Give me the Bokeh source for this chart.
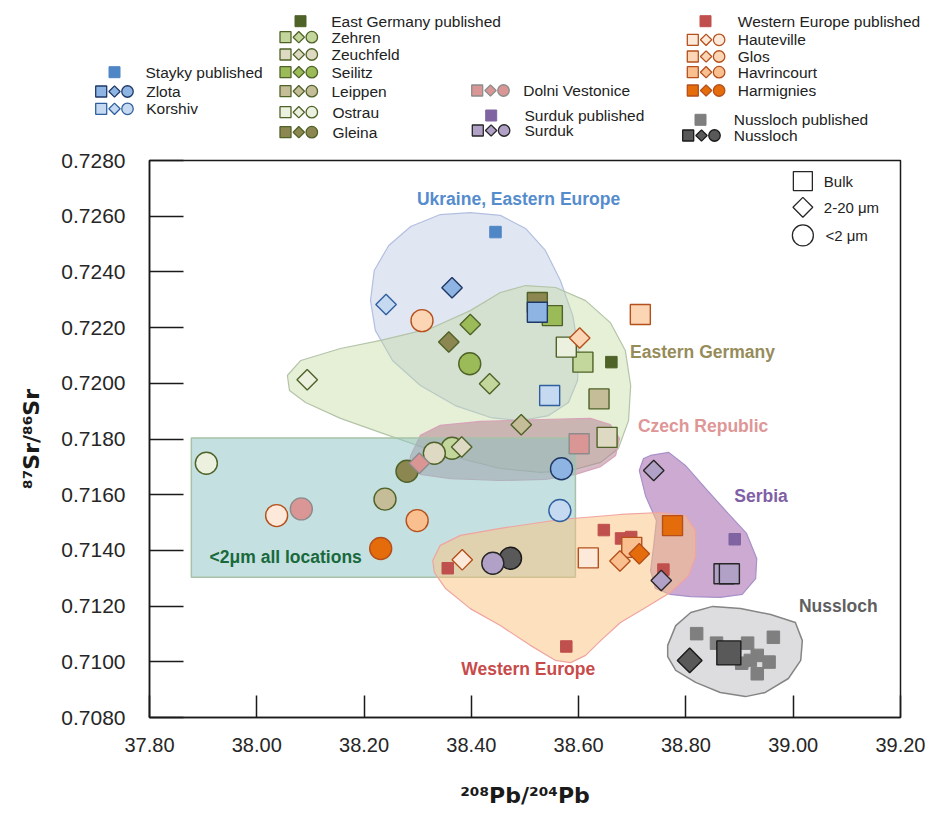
import numpy as np
from bokeh.plotting import figure
from bokeh.models import ColumnDataSource, Label, Range1d, FixedTicker, NumeralTickFormatter
from bokeh.embed import file_html
from bokeh.resources import INLINE
from bokeh.core.properties import value

# ---------------- data ----------------
x_ticks = [37.80, 38.00, 38.20, 38.40, 38.60, 38.80, 39.00, 39.20]
y_ticks = [0.7080, 0.7100, 0.7120, 0.7140, 0.7160, 0.7180, 0.7200, 0.7220, 0.7240, 0.7260, 0.7280]

# Bulk samples (squares)
bulk_site = ["Gleina", "Seilitz", "Zlota", "Korshiv", "Zehren", "Ostrau", "Leippen", "Zeuchfeld",
             "Dolni Vestonice", "Glos", "Hauteville", "Havrincourt", "Harmignies", "Surduk", "Surduk", "Nussloch"]
bulk_pb = [38.523, 38.551, 38.523, 38.546, 38.608, 38.577, 38.638, 38.653,
           38.601, 38.715, 38.618, 38.699, 38.775, 38.871, 38.881, 38.880]
bulk_sr = [0.72290, 0.72243, 0.72255, 0.71956, 0.72076, 0.72130, 0.71944, 0.71806,
           0.71783, 0.72247, 0.71373, 0.71411, 0.71489, 0.71316, 0.71316, 0.71032]

# <2 um fraction (circles)
fine_site = ["Ostrau", "Dolni Vestonice", "Hauteville", "Leippen", "Havrincourt", "Harmignies", "Gleina",
             "Zehren", "Zeuchfeld", "Seilitz", "Glos", "Zlota", "Korshiv", "Nussloch", "Surduk"]
fine_pb = [37.906, 38.083, 38.037, 38.239, 38.299, 38.231, 38.280,
           38.364, 38.331, 38.397, 38.308, 38.568, 38.565, 38.473, 38.440]
fine_sr = [0.71713, 0.71549, 0.71525, 0.71584, 0.71507, 0.71407, 0.71684,
           0.71767, 0.71749, 0.72070, 0.72225, 0.71693, 0.71543, 0.71372, 0.71354]

# 2-20 um fraction (diamonds)
mid_site = ["Ostrau", "Korshiv", "Zlota", "Seilitz", "Gleina", "Zehren", "Leippen", "Glos", "Dolni Vestonice",
            "Zeuchfeld", "Hauteville", "Havrincourt", "Harmignies", "Surduk", "Surduk", "Nussloch"]
mid_pb = [38.094, 38.241, 38.364, 38.398, 38.358, 38.434, 38.493, 38.602, 38.303,
          38.382, 38.383, 38.677, 38.713, 38.740, 38.754, 38.807]
mid_sr = [0.72013, 0.72283, 0.72343, 0.72211, 0.72148, 0.71998, 0.71851, 0.72163, 0.71713,
          0.71771, 0.71366, 0.71362, 0.71388, 0.71687, 0.71292, 0.71005]

# Published data (small squares)
pub_group = (["Stayky", "East Germany", "Surduk"] + ["Western Europe"] * 6 + ["Nussloch"] * 9)
pub_pb = [38.445, 38.661, 38.891,
          38.356, 38.647, 38.679, 38.698, 38.577, 38.758,
          38.820, 38.857, 38.915, 38.963, 38.933, 38.920, 38.904, 38.955, 38.933]
pub_sr = [0.72543, 0.72076, 0.71440,
          0.71336, 0.71473, 0.71443, 0.71448, 0.71055, 0.71331,
          0.71101, 0.71067, 0.71067, 0.71088, 0.71023, 0.71005, 0.70995, 0.70999, 0.70957]

# Region outlines
ukraine_pb = [38.398, 38.454, 38.501, 38.538, 38.566, 38.589, 38.600, 38.598, 38.581, 38.544, 38.492,
              38.436, 38.370, 38.305, 38.253, 38.221, 38.212, 38.219, 38.246, 38.287, 38.342]
ukraine_sr = [0.72613, 0.72603, 0.72556, 0.72477, 0.72369, 0.72243, 0.72118, 0.72010, 0.71931, 0.71884, 0.71866,
              0.71877, 0.71920, 0.71992, 0.72082, 0.72190, 0.72297, 0.72405, 0.72495, 0.72563, 0.72606]

germany_pb = [38.057, 38.082, 38.156, 38.231, 38.324, 38.398, 38.454, 38.501, 38.557, 38.613, 38.659, 38.687,
              38.697, 38.693, 38.674, 38.641, 38.585, 38.529, 38.454, 38.380, 38.305, 38.231, 38.156, 38.091, 38.061]
germany_sr = [0.72028, 0.72082, 0.72125, 0.72154, 0.72197, 0.72261, 0.72326, 0.72351, 0.72344, 0.72297, 0.72218, 0.72118,
              0.71992, 0.71866, 0.71766, 0.71716, 0.71687, 0.71680, 0.71694, 0.71730, 0.71773, 0.71823, 0.71874, 0.71931, 0.71974]

czech_pb = [38.287, 38.305, 38.342, 38.417, 38.529, 38.622, 38.659, 38.676, 38.669, 38.641, 38.594, 38.538,
            38.454, 38.361, 38.305, 38.283]
czech_sr = [0.71741, 0.71813, 0.71849, 0.71863, 0.71870, 0.71874, 0.71852, 0.71802, 0.71741, 0.71701, 0.71673, 0.71655,
            0.71651, 0.71658, 0.71673, 0.71701]

western_pb = [38.328, 38.342, 38.380, 38.454, 38.566, 38.678, 38.753, 38.799, 38.818, 38.818, 38.805, 38.771,
              38.725, 38.678, 38.641, 38.613, 38.585, 38.557, 38.510, 38.454, 38.398, 38.352, 38.331]
western_sr = [0.71364, 0.71418, 0.71454, 0.71479, 0.71511, 0.71529, 0.71536, 0.71525, 0.71471, 0.71378, 0.71310, 0.71249,
              0.71195, 0.71141, 0.71076, 0.71023, 0.70997, 0.71005, 0.71059, 0.71130, 0.71191, 0.71263, 0.71321]

serbia_pb = [38.734, 38.768, 38.799, 38.837, 38.879, 38.913, 38.932, 38.930, 38.905, 38.864, 38.809, 38.771,
             38.743, 38.734, 38.740, 38.745, 38.725, 38.713, 38.721]
serbia_sr = [0.71741, 0.71752, 0.71705, 0.71622, 0.71532, 0.71461, 0.71371, 0.71299, 0.71242, 0.71231, 0.71234, 0.71242,
             0.71263, 0.71328, 0.71418, 0.71507, 0.71594, 0.71687, 0.71730]

nussloch_pb = [38.766, 38.781, 38.809, 38.850, 38.902, 38.958, 39.004, 39.017, 39.014, 38.991, 38.948, 38.911,
               38.864, 38.818, 38.781, 38.766]
nussloch_sr = [0.71059, 0.71130, 0.71177, 0.71199, 0.71191, 0.71170, 0.71141, 0.71076, 0.71005, 0.70940, 0.70890, 0.70875,
               0.70890, 0.70926, 0.70969, 0.71019]

# "<2um all locations" box: left, right, bottom, top
fine_box = [37.878, 38.594, 0.71304, 0.71804]

# ---------------- styles ----------------
site_style = {
    "Zlota": ("#8db4e2", "#1f3864"),
    "Korshiv": ("#c5d9f1", "#2f5f9f"),
    "Zehren": ("#c3d69b", "#4f6228"),
    "Zeuchfeld": ("#ddd9c3", "#4f6228"),
    "Seilitz": ("#9bbb59", "#4f6228"),
    "Leippen": ("#c4bd97", "#4f6228"),
    "Ostrau": ("#ebf1de", "#4f6228"),
    "Gleina": ("#8c8650", "#4f6228"),
    "Dolni Vestonice": ("#da9694", "#8c8c8c"),
    "Surduk": ("#b2a1c7", "#262626"),
    "Hauteville": ("#fde9d9", "#b5501c"),
    "Glos": ("#fcd5b4", "#b5501c"),
    "Havrincourt": ("#fabf8f", "#b5501c"),
    "Harmignies": ("#e46c0a", "#b5501c"),
    "Nussloch": ("#595959", "#1a1a1a"),
}
pub_color = {"Stayky": "#4f86c6", "East Germany": "#4f6228", "Surduk": "#8064a2",
             "Western Europe": "#c0504d", "Nussloch": "#7f7f7f"}

SANS = "Liberation Sans"
TXT = "#222222"

# ---------------- main plot ----------------
p = figure(width=925, height=666, x_range=Range1d(37.80, 39.20), y_range=Range1d(0.7080, 0.7280),
           toolbar_location=None, output_backend="svg",
           min_border_left=149, min_border_right=25, min_border_top=12, min_border_bottom=97)
p.grid.visible = False
p.outline_line_color = "#1a1a1a"
p.outline_line_width = 1.5
p.background_fill_color = "white"
p.border_fill_color = "white"

p.xaxis.ticker = FixedTicker(ticks=x_ticks)
p.yaxis.ticker = FixedTicker(ticks=y_ticks)
p.xaxis.formatter = NumeralTickFormatter(format="0.00")
p.yaxis.formatter = NumeralTickFormatter(format="0.0000")
for ax in (p.xaxis, p.yaxis):
    ax.major_tick_out = 0
    ax.minor_tick_line_color = None
    ax.major_tick_line_color = "#1a1a1a"
    ax.major_tick_line_width = 1.5
    ax.axis_line_color = "#1a1a1a"
    ax.axis_line_width = 1.5
    ax.major_label_text_color = "#262626"
    ax.axis_label_text_font = "DejaVu Sans"
    ax.axis_label_text_font_style = "bold"
    ax.axis_label_text_font_size = "22px"
    ax.axis_label_text_color = "#1a1a1a"
p.yaxis.major_tick_in = 34
p.xaxis.major_tick_in = 22
p.yaxis.major_label_text_font = SANS
p.yaxis.major_label_text_font_size = "21px"
p.yaxis.major_label_standoff = 24
p.xaxis.major_label_text_font = SANS
p.xaxis.major_label_text_font_size = "20px"
p.xaxis.major_label_standoff = 20
p.xaxis.axis_label = "\u00b2\u2070\u2078Pb/\u00b2\u2070\u2074Pb"
p.xaxis.axis_label_standoff = 28
p.yaxis.axis_label = "\u2078\u2077Sr/\u2078\u2076Sr"
p.yaxis.axis_label_standoff = 14

# region shapes
p.patch(ukraine_pb, ukraine_sr, fill_color="#a9b8dd", fill_alpha=0.35, line_color="#b3bfe0", line_width=1.2)
p.patch(germany_pb, germany_sr, fill_color="#c1da9b", fill_alpha=0.4, line_color="#b3c4a8", line_width=1.2)
p.patch(czech_pb, czech_sr, fill_color="#b07a90", fill_alpha=0.5, line_color="#d7a3b8", line_width=1.2)
p.quad(left=fine_box[0], right=fine_box[1], bottom=fine_box[2], top=fine_box[3],
       fill_color="#89c1c1", fill_alpha=0.5, line_color="#a7c2a7", line_width=1.5)
p.patch(serbia_pb, serbia_sr, fill_color="#a464ad", fill_alpha=0.55, line_color="#a890c8", line_width=1.2)
p.patch(western_pb, western_sr, fill_color="#fbc17d", fill_alpha=0.5, line_color="#f0a4a0", line_width=1.2)
p.patch(nussloch_pb, nussloch_sr, fill_color="#d9d9db", fill_alpha=0.9, line_color="#858585", line_width=1.5)

# published data
pub_src = ColumnDataSource(dict(x=pub_pb, y=pub_sr, c=[pub_color[g] for g in pub_group],
                                s=[12.5 if g == "Nussloch" else 11.5 for g in pub_group]))
p.scatter("x", "y", source=pub_src, marker="square", size="s", fill_color="c", line_color="c")


def site_source(sites, xs, ys, normal, big):
    return ColumnDataSource(dict(
        x=xs, y=ys,
        fill=[site_style[s][0] for s in sites],
        line=[site_style[s][1] for s in sites],
        size=[big if s == "Nussloch" else normal for s in sites]))


p.scatter("x", "y", source=site_source(bulk_site, bulk_pb, bulk_sr, 20, 24), marker="square",
          size="size", fill_color="fill", line_color="line", line_width=1.4)
p.scatter("x", "y", source=site_source(fine_site, fine_pb, fine_sr, 22, 22), marker="circle",
          size="size", fill_color="fill", line_color="line", line_width=1.4)
p.scatter("x", "y", source=site_source(mid_site, mid_pb, mid_sr, 14.5, 17.5), marker="square",
          angle=np.pi / 4, size="size", fill_color="fill", line_color="line", line_width=1.4)

# region labels
region_labels = [
    ("Ukraine, Eastern Europe", 38.488, 0.72662, "#558ccd", "center"),
    ("Eastern Germany", 38.831, 0.72112, "#968c5a", "center"),
    ("Czech Republic", 38.832, 0.71845, "#de9696", "center"),
    ("Serbia", 38.940, 0.71595, "#8060a5", "center"),
    ("Nussloch", 39.084, 0.71200, "#5f5f5f", "center"),
    ("Western Europe", 38.506, 0.70973, "#c84b4b", "center"),
    ("<2\u03bcm all locations", 37.912, 0.71378, "#19693c", "left"),
]
for txt, lx, ly, col, al in region_labels:
    p.add_layout(Label(x=lx, y=ly, text=txt, text_font=SANS, text_font_style="bold",
                       text_font_size="17.5px", text_color=col, text_align=al, text_baseline="middle"))

# size-fraction key (inside plot, top right)
key_x = [39.018, 39.018, 39.018]
key_y = [0.72726, 0.72632, 0.72531]
p.scatter([key_x[0]], [key_y[0]], marker="square", size=19, fill_color="white", line_color="#262626", line_width=1.3)
p.scatter([key_x[1]], [key_y[1]], marker="square", angle=np.pi / 4, size=14, fill_color="white",
          line_color="#262626", line_width=1.3)
p.scatter([key_x[2]], [key_y[2]], marker="circle", size=21, fill_color="white", line_color="#262626", line_width=1.3)
for txt, ky, kx in [("Bulk", key_y[0], 39.057), ("2-20 \u03bcm", key_y[1], 39.057), ("<2 \u03bcm", key_y[2], 39.060)]:
    p.add_layout(Label(x=kx, y=ky, text=txt, text_font=SANS, text_font_size="15px",
                       text_color=TXT, text_align="left", text_baseline="middle"))

# ---------------- legend panel (above the plot, separate root) ----------------
leg = figure(width=925, height=148, x_range=Range1d(0, 925), y_range=Range1d(148, 0),
             toolbar_location=None, output_backend="svg", min_border=0,
             x_axis_location=None, y_axis_location=None)
leg.grid.visible = False
leg.outline_line_color = None

legend_rows = [
    ("pub", "Stayky", 114, 71.7, 145, "Stayky published"),
    ("site", "Zlota", 100.7, 91, 145.7, "Zlota"),
    ("site", "Korshiv", 100.7, 108.3, 145.7, "Korshiv"),
    ("pub", "East Germany", 300, 20.7, 330.7, "East Germany published"),
    ("site", "Zehren", 285, 36.7, 331, "Zehren"),
    ("site", "Zeuchfeld", 285, 54, 331, "Zeuchfeld"),
    ("site", "Seilitz", 285, 71.7, 331, "Seilitz"),
    ("site", "Leippen", 285, 90.7, 331, "Leippen"),
    ("site", "Ostrau", 285, 111.7, 332, "Ostrau"),
    ("site", "Gleina", 285, 131.7, 332, "Gleina"),
    ("site", "Dolni Vestonice", 476.7, 90, 522.7, "Dolni Vestonice"),
    ("pub", "Surduk", 490.7, 115, 524, "Surduk published"),
    ("site", "Surduk", 477.3, 130, 524, "Surduk"),
    ("pub", "Western Europe", 705, 20.7, 737.3, "Western Europe published"),
    ("site", "Hauteville", 692.3, 39.3, 737.3, "Hauteville"),
    ("site", "Glos", 692.3, 56, 737.3, "Glos"),
    ("site", "Havrincourt", 692.3, 71.7, 737.3, "Havrincourt"),
    ("site", "Harmignies", 692.3, 90, 737.3, "Harmignies"),
    ("pub", "Nussloch", 700, 119.3, 733.3, "Nussloch published"),
    ("site", "Nussloch", 687.7, 135, 733.3, "Nussloch"),
]
for kind, name, mx, my, tx, label in legend_rows:
    if kind == "pub":
        c = pub_color[name]
        leg.scatter([mx], [my], marker="square", size=11, fill_color=c, line_color=c)
    else:
        f, l = site_style[name]
        leg.scatter([mx], [my], marker="square", size=11, fill_color=f, line_color=l, line_width=1.3)
        leg.scatter([mx + 13.3], [my], marker="square", angle=np.pi / 4, size=8, fill_color=f,
                    line_color=l, line_width=1.3)
        leg.scatter([mx + 26.3], [my], marker="circle", size=11.5, fill_color=f, line_color=l, line_width=1.3)
    leg.text([tx], [my], text=[label], text_font=value(SANS), text_font_size="15.5px",
             text_color=TXT, text_align="left", text_baseline="middle")

open("out.html", "w").write(file_html([leg, p], INLINE))
